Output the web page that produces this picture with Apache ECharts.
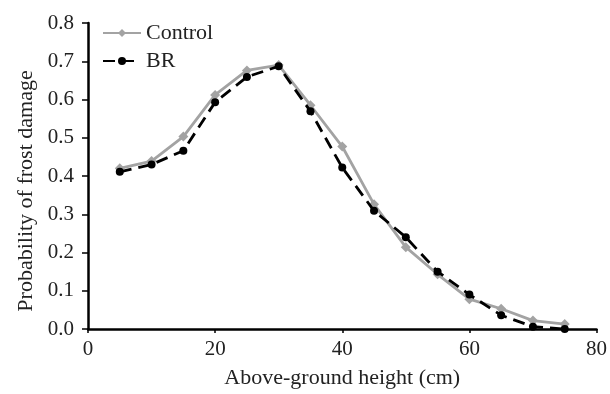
<!DOCTYPE html>
<html>
<head>
<meta charset="utf-8">
<script src="https://cdn.jsdelivr.net/npm/echarts@6/dist/echarts.min.js"></script>
<style>
html, body { margin: 0; padding: 0; background: #fff; }
#main { width: 610px; height: 394px; }
</style>
</head>
<body>
<div id="main"></div>
<script>
// heights (cm)
var heights = [5, 10, 15, 20, 25, 30, 35, 40, 45, 50, 55, 60, 65, 70, 75];
var controlVals = [0.420, 0.439, 0.503, 0.612, 0.676, 0.690, 0.585, 0.477, 0.326, 0.214, 0.143, 0.078, 0.053, 0.022, 0.013];
var brVals = [0.411, 0.430, 0.466, 0.593, 0.659, 0.687, 0.569, 0.422, 0.309, 0.240, 0.150, 0.090, 0.036, 0.006, 0.000];

function pairs(xs, ys) {
    return xs.map(function (x, i) { return [x, ys[i]]; });
}

var font = '"Liberation Serif", "DejaVu Serif", serif';

var dom = document.getElementById('main');
var myChart = echarts.init(dom);
var option = {
    animation: false,
    textStyle: { fontFamily: font },
    grid: { left: 88, right: 13, top: 23, bottom: 63 },
    legend: {
        left: 102,
        top: 22,
        padding: 0,
        orient: 'vertical',
        itemWidth: 38,
        itemHeight: 10,
        itemGap: 6,
        textStyle: { fontFamily: font, fontSize: 22, color: '#222' },
        data: ['Control', 'BR']
    },
    xAxis: {
        type: 'value',
        min: 0,
        max: 80,
        interval: 20,
        name: 'Above-ground height (cm)',
        nameLocation: 'middle',
        nameGap: 38,
        nameTextStyle: { fontFamily: font, fontSize: 22, color: '#222' },
        axisLine: { lineStyle: { color: '#000', width: 2.5 } },
        axisTick: { length: 4, lineStyle: { color: '#000', width: 1.5 } },
        axisLabel: { fontFamily: font, fontSize: 21, color: '#222', margin: 10 },
        splitLine: { show: false }
    },
    yAxis: {
        type: 'value',
        min: 0,
        max: 0.8,
        interval: 0.1,
        name: 'Probability of frost damage',
        nameLocation: 'middle',
        nameGap: 51,
        nameTextStyle: { fontFamily: font, fontSize: 22, color: '#222', padding: [0, 30, 0, 0] },
        axisLine: { show: true, lineStyle: { color: '#000', width: 2.5 } },
        axisTick: { show: true, length: 6, lineStyle: { color: '#000', width: 1.5 } },
        axisLabel: {
            fontFamily: font, fontSize: 21, color: '#222', margin: 14,
            formatter: function (v) { return v.toFixed(1); }
        },
        splitLine: { show: false }
    },
    series: [
        {
            name: 'Control',
            type: 'line',
            data: pairs(heights, controlVals),
            symbol: 'diamond',
            symbolSize: 10,
            itemStyle: { color: '#a3a3a3' },
            lineStyle: { color: '#a3a3a3', width: 2.8 },
            z: 2
        },
        {
            name: 'BR',
            type: 'line',
            data: pairs(heights, brVals),
            symbol: 'circle',
            symbolSize: 8,
            itemStyle: { color: '#000' },
            lineStyle: { color: '#000', width: 2.8, type: [12, 7] },
            z: 3
        }
    ]
};
myChart.setOption(option, true);
window.onresize = myChart.resize;
</script>
</body>
</html>
